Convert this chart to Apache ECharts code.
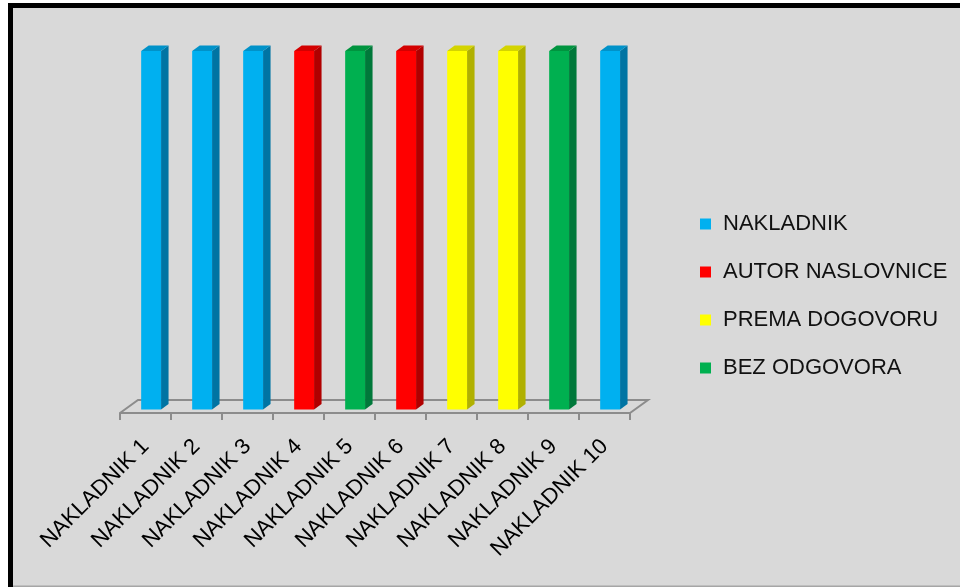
<!DOCTYPE html>
<html>
<head>
<meta charset="utf-8">
<script src="https://cdn.jsdelivr.net/npm/echarts@6/dist/echarts.min.js"></script>
<style>
html,body{margin:0;padding:0;background:#fff;}
#chart{width:960px;height:587px;}
</style>
</head>
<body>
<div id="chart"></div>
<script>
// ---- data ----
const categories = ['NAKLADNIK 1','NAKLADNIK 2','NAKLADNIK 3','NAKLADNIK 4','NAKLADNIK 5',
                    'NAKLADNIK 6','NAKLADNIK 7','NAKLADNIK 8','NAKLADNIK 9','NAKLADNIK 10'];
const values = [1, 1, 1, 1, 1, 1, 1, 1, 1, 1];
const answerOf = ['NAKLADNIK','NAKLADNIK','NAKLADNIK','AUTOR NASLOVNICE','BEZ ODGOVORA',
                  'AUTOR NASLOVNICE','PREMA DOGOVORU','PREMA DOGOVORU','BEZ ODGOVORA','NAKLADNIK'];
const answers = ['NAKLADNIK','AUTOR NASLOVNICE','PREMA DOGOVORU','BEZ ODGOVORA'];

// ---- styles ----
const frontColors = ['#00B0F0','#FF0000','#FFFF00','#00B050'];
const sideColors  = ['#0074a3','#b00000','#b0b000','#00783a'];
const topColors   = ['#0092c9','#d40000','#d4d400','#00943f'];
const FONT = 'Liberation Sans';

const chart = echarts.init(document.getElementById('chart'));

function barRenderer(gi) {
  return function (params, api) {
    const band = api.size([1, 0])[0];
    const top = api.coord([api.value(0), api.value(1)]);
    const base = api.coord([api.value(0), 0]);
    const w = band * 0.39;
    const sx = band * 0.11, sy = -3.5;
    const dx = 7.5, dy = -5.5;
    const xl = top[0] - w / 2 + sx, xr = xl + w;
    const yt = top[1] + sy, yb = base[1] + sy;
    return {
      type: 'group',
      children: [
        { type: 'polygon', shape: { points: [[xr, yt], [xr + dx, yt + dy], [xr + dx, yb + dy], [xr, yb]] }, style: { fill: sideColors[gi] } },
        { type: 'polygon', shape: { points: [[xl, yt], [xl + dx, yt + dy], [xr + dx, yt + dy], [xr, yt]] }, style: { fill: topColors[gi] } },
        { type: 'rect', shape: { x: xl, y: yt, width: w, height: yb - yt }, style: { fill: frontColors[gi] } }
      ]
    };
  };
}

const barSeries = answers.map(function (name, gi) {
  const data = [];
  categories.forEach(function (c, i) {
    if (answerOf[i] === name) data.push([i, values[i]]);
  });
  return {
    name: name,
    type: 'custom',
    renderItem: barRenderer(gi),
    encode: { x: 0, y: 1 },
    itemStyle: { color: frontColors[gi] },
    data: data,
    z: 3
  };
});

const floorSeries = {
  name: 'floor',
  type: 'custom',
  silent: true,
  z: 1,
  data: [[0, 0]],
  encode: { x: 0, y: 1 },
  renderItem: function (params, api) {
    const band = api.size([1, 0])[0];
    const a = api.coord([0, 0]);
    const b = api.coord([categories.length - 1, 0]);
    const x0 = a[0] - band / 2, x1 = b[0] + band / 2, y0 = a[1];
    return {
      type: 'polyline',
      shape: { points: [[x0, y0], [x0 + 18, y0 - 13], [x1 + 18, y0 - 13], [x1, y0]] },
      style: { stroke: '#8c8c8c', lineWidth: 2, fill: null }
    };
  }
};

chart.setOption({
  backgroundColor: '#ffffff',
  animation: false,
  graphic: [
    { type: 'rect', z: -10, shape: { x: 10.5, y: 5.5, width: 960, height: 600 },
      style: { fill: '#d9d9d9', stroke: '#000', lineWidth: 5 } },
    { type: 'rect', z: -9, shape: { x: 13, y: 585.5, width: 960, height: 2 },
      style: { fill: '#a6a6a6' } }
  ],
  legend: {
    data: answers,
    orient: 'vertical',
    left: 695,
    top: 208,
    itemGap: 26,
    itemWidth: 11,
    itemHeight: 11,
    icon: 'rect',
    textStyle: { fontFamily: FONT, fontSize: 22, color: '#111', lineHeight: 22, padding: [0, 0, 0, 7] }
  },
  grid: { left: 120, top: 54.5, width: 510, height: 358.5 },
  xAxis: {
    type: 'category',
    data: categories,
    boundaryGap: true,
    axisLine: { lineStyle: { color: '#8c8c8c', width: 2 } },
    axisTick: { show: true, length: 7, lineStyle: { color: '#8c8c8c', width: 2 } },
    axisLabel: { rotate: 45, interval: 0, margin: 30, fontFamily: FONT, fontSize: 22, color: '#000' }
  },
  yAxis: {
    type: 'value', min: 0, max: 1,
    show: false
  },
  series: [floorSeries].concat(barSeries)
});
</script>
</body>
</html>
